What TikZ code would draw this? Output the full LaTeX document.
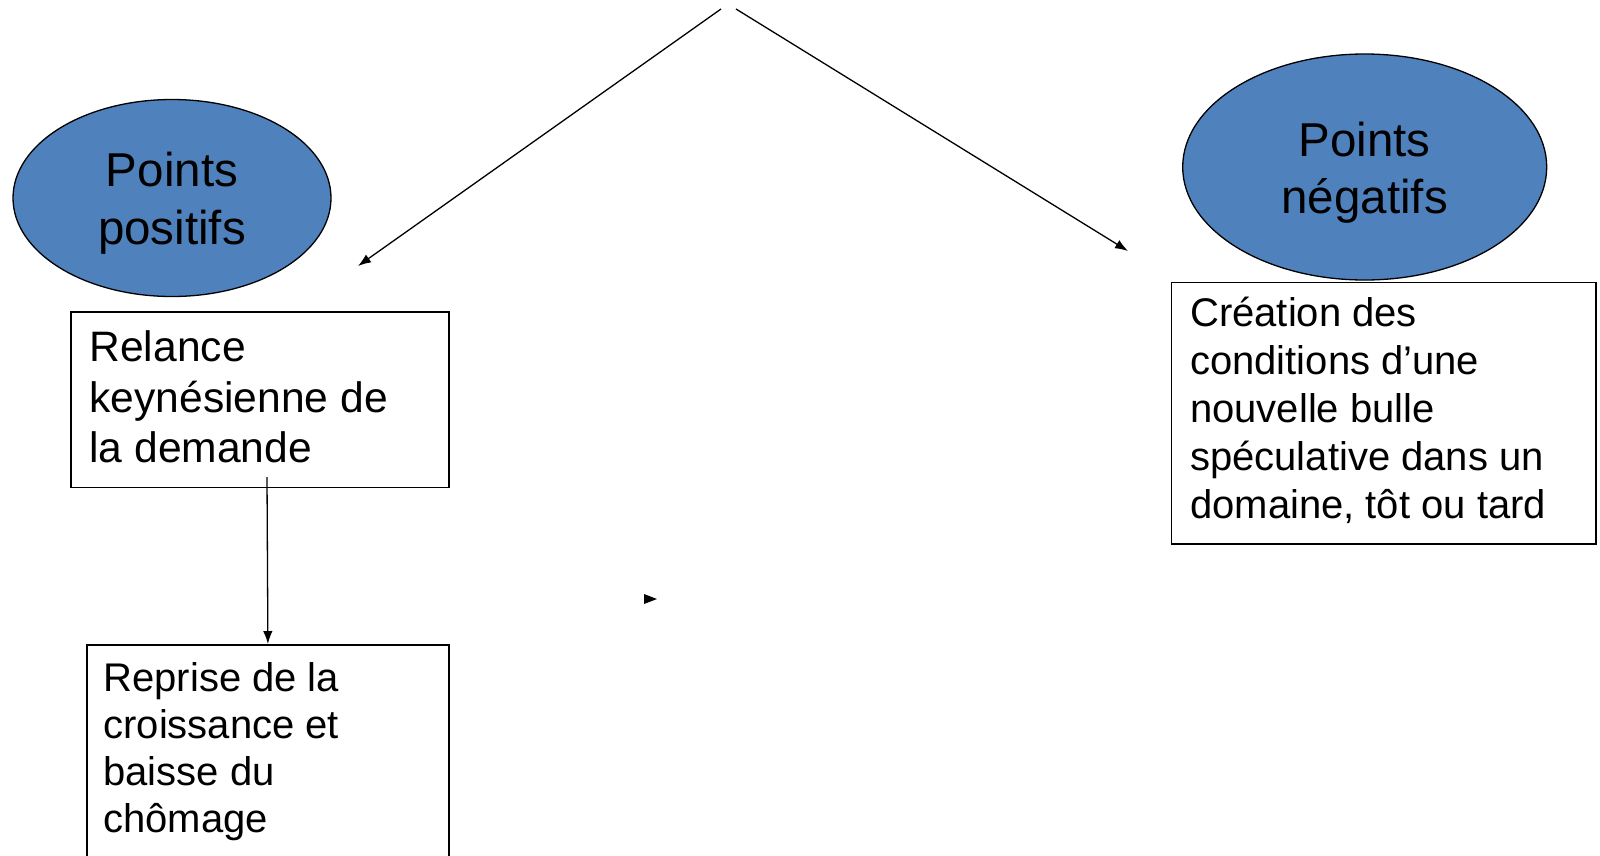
\documentclass[tikz,border=0pt]{standalone}
\usepackage{fontspec}
\setmainfont{Liberation Sans}
\usetikzlibrary{arrows.meta,shapes.geometric}
\definecolor{ovalblue}{RGB}{79,129,189}
\begin{document}
\begin{tikzpicture}[x=1pt,y=-1pt,
  oval/.style={ellipse, draw=black, line width=1.3pt, fill=ovalblue, inner sep=0pt},
  textbox/.style={rectangle, draw=black, line width=1.5pt, inner sep=0pt, anchor=north west},
  label/.style={inner sep=0pt, anchor=base west},
  ovaltext/.style={inner sep=0pt, anchor=base},
  link/.style={line width=1.3pt, -{Latex[length=13pt,width=9.5pt]}}]
  % page frame
  \fill[white] (0,0) rectangle (1600,855);
  \useasboundingbox (0,0) rectangle (1600,855);
  \clip (0,0) rectangle (1600,855);

  % ovals
  \node[oval, minimum width=318pt, minimum height=197pt] (pos) at (172,198) {};
  \node[ovaltext] (postext) at (172,186.7)
    {\parbox[t]{300pt}{\centering\fontsize{47.5}{57.6}\selectfont Points\\positifs}};
  \node[oval, minimum width=364pt, minimum height=226pt] (neg) at (1364.7,167) {};
  \node[ovaltext] (negtext) at (1364.7,156.7)
    {\parbox[t]{340pt}{\centering\fontsize{47.5}{56.7}\selectfont Points\\négatifs}};

  % boxes
  \node[textbox, minimum width=378.3pt, minimum height=175.7pt] (relance) at (70,311) {};
  \node[label] (relancetext) at (89.3,361.7)
    {\parbox[t]{360pt}{\raggedright\fontsize{42.6}{50.3}\selectfont Relance\\keynésienne de\\la demande}};

  \node[textbox, minimum width=362.3pt, minimum height=240pt] (reprise) at (86,644) {};
  \node[label] (reprisetext) at (103.3,691.7)
    {\parbox[t]{340pt}{\raggedright\fontsize{40}{47}\selectfont Reprise de la\\croissance et\\baisse du\\chômage}};

  \node[textbox, minimum width=424.3pt, minimum height=261.6pt] (bulle) at (1170.7,281.7) {};
  \node[label] (bulletext) at (1190,326.7)
    {\parbox[t]{400pt}{\raggedright\fontsize{40}{47.9}\selectfont Création des\\conditions d’une\\nouvelle bulle\\spéculative dans un\\domaine, tôt ou tard}};

  % connectors
  \coordinate (apexL) at (721,9);
  \coordinate (apexR) at (736,9);
  \coordinate (tipL) at (358,266);
  \coordinate (tipR) at (1128,251);
  \coordinate (relanceout) at (267,477);
  \draw[link] (apexL) -- (tipL);
  \draw[link] (apexR) -- (tipR);
  \draw[link] (relanceout) -- (reprise.north);

  % lone arrowhead
  \coordinate (stub) at (657,599);
  \fill (stub) -- ++(-13,-5) -- ++(0,10) -- cycle;
\end{tikzpicture}
\end{document}
